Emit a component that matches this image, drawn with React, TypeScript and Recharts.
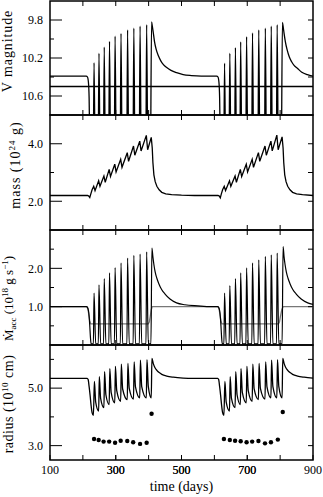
import type { ReactNode } from "react";
import { ComposedChart, Line, Scatter, XAxis, YAxis, ReferenceLine, ReferenceArea } from "recharts";

const FONT = "'Liberation Serif', 'DejaVu Serif', serif";
const WIDTH = 323;

const xTicks = [200, 300, 400, 500, 600, 700, 800];
const xLabels = [100, 300, 500, 700, 900];

// panel 1: V magnitude (time in days, mag)
const vMag = [
  [100, 10.39], [210, 10.39], [214, 10.4], [217, 10.46], [219, 10.62], [220.5, 11.0], [222, 11.5],
  [231, 11.5], [234, 10.25], [238, 11.5],
  [246, 11.5], [249, 10.15], [253, 11.5],
  [262, 11.5], [265, 10.085], [269, 11.5],
  [278, 11.5], [281, 10.025], [285, 11.5],
  [295, 11.5], [298, 9.97], [302, 11.5],
  [313, 11.5], [316, 9.94], [320, 11.5],
  [333, 11.5], [336, 9.905], [340, 11.5],
  [352, 11.5], [355, 9.885], [359, 11.5],
  [371, 11.5], [374, 9.865], [378, 11.5],
  [391, 11.5], [394, 9.85], [398, 11.5],
  [405, 11.5], [409, 9.82], [411, 9.86], [414, 9.93], [418, 10.03], [423, 10.11], [430, 10.18],
  [437, 10.23], [445, 10.27], [455, 10.3], [468, 10.33], [485, 10.355], [505, 10.375], [530, 10.385], [560, 10.39],
  [607, 10.39], [611, 10.4], [614, 10.46], [616, 10.62], [617.5, 11.0], [619, 11.5],
  [628, 11.5], [631, 10.255], [635, 11.5],
  [644, 11.5], [647, 10.15], [651, 11.5],
  [661, 11.5], [664, 10.09], [668, 11.5],
  [677, 11.5], [680, 10.03], [684, 11.5],
  [695, 11.5], [698, 9.975], [702, 11.5],
  [713, 11.5], [716, 9.935], [720, 11.5],
  [732, 11.5], [735, 9.905], [739, 11.5],
  [752, 11.5], [755, 9.885], [759, 11.5],
  [770, 11.5], [773, 9.865], [777, 11.5],
  [788, 11.5], [791, 9.85], [795, 11.5],
  [803, 11.5], [807, 9.825], [809, 9.865], [812, 9.94], [816, 10.03], [821, 10.11], [828, 10.19],
  [835, 10.24], [843, 10.28], [853, 10.31], [866, 10.35], [883, 10.375], [900, 10.39],
];
const vLevel = 10.5;

// panel 2: disc mass (10^24 g)
const mass = [
  [100, 2.2], [214, 2.2], [218, 2.18], [221, 2.13], [224, 2.25], [228, 2.4], [233, 2.52],
  [237, 2.37], [248, 2.71], [252, 2.52], [264, 2.88], [268, 2.66], [280, 3.11], [284, 2.86], [297, 3.29],
  [301, 3.02], [315, 3.46], [319, 3.18], [335, 3.69], [339, 3.39], [354, 3.92], [358, 3.6], [373, 4.09],
  [377, 3.75], [393, 4.29], [397, 3.79], [408, 4.22],
  [411, 3.85], [413, 3.35], [416, 2.92], [420, 2.68], [425, 2.52], [432, 2.4], [440, 2.31], [452, 2.26],
  [470, 2.23], [500, 2.21], [540, 2.2],
  [611, 2.2], [615, 2.18], [618, 2.12], [621, 2.25], [625, 2.4], [630, 2.52],
  [634, 2.37], [646, 2.71], [650, 2.52], [663, 2.88], [667, 2.66], [679, 3.11], [683, 2.86], [697, 3.29],
  [701, 3.02], [715, 3.46], [719, 3.18], [734, 3.69], [738, 3.39], [754, 3.92], [758, 3.6], [772, 4.09],
  [776, 3.75], [790, 4.3], [794, 3.79], [806, 4.24],
  [809, 3.85], [811, 3.35], [814, 2.92], [818, 2.68], [823, 2.52], [830, 2.4], [838, 2.31], [850, 2.26],
  [868, 2.23], [900, 2.2],
];

// panel 3: accretion rate and transfer rate (10^18 g/s)
const accretion = [
  [100, 1.0], [211, 1.0], [214, 0.98], [217, 0.9], [219, 0.75], [221, 0.5], [223, 0.2], [225, 0.03],
  [232, 0.03], [234, 1.355], [239, 0.03],
  [247, 0.03], [249, 1.57], [254, 0.03],
  [263, 0.03], [265, 1.73], [270, 0.03],
  [279, 0.03], [281, 1.88], [286, 0.03],
  [296, 0.03], [298, 2.02], [303, 0.03],
  [314, 0.03], [316, 2.14], [321, 0.03],
  [334, 0.03], [336, 2.27], [341, 0.03],
  [353, 0.03], [355, 2.34], [360, 0.03],
  [372, 0.03], [374, 2.37], [379, 0.03],
  [392, 0.03], [394, 2.43], [399, 0.03],
  [407, 0.03], [410, 2.53], [413, 2.3], [416, 2.1], [420, 1.9], [425, 1.74], [431, 1.6], [440, 1.44],
  [450, 1.33], [465, 1.2], [485, 1.1], [510, 1.05], [550, 1.02], [590, 1.0],
  [610, 1.0], [613, 0.98], [616, 0.9], [618, 0.75], [620, 0.5], [622, 0.2], [624, 0.03],
  [629, 0.03], [631, 1.355], [636, 0.03],
  [645, 0.03], [647, 1.55], [652, 0.03],
  [662, 0.03], [664, 1.73], [669, 0.03],
  [678, 0.03], [680, 1.88], [685, 0.03],
  [696, 0.03], [698, 2.01], [703, 0.03],
  [714, 0.03], [716, 2.14], [721, 0.03],
  [733, 0.03], [735, 2.22], [740, 0.03],
  [753, 0.03], [755, 2.31], [760, 0.03],
  [771, 0.03], [773, 2.35], [778, 0.03],
  [789, 0.03], [791, 2.4], [796, 0.03],
  [806, 0.03], [809, 2.57], [812, 2.3], [815, 2.1], [819, 1.9], [824, 1.74], [830, 1.6], [839, 1.44],
  [849, 1.33], [864, 1.2], [884, 1.1], [900, 1.06],
];
const transfer = [
  [100, 1.0], [212, 1.0], [215, 0.95], [218, 0.8], [221, 0.62], [224, 0.55], [399, 0.55], [402, 0.6],
  [405, 0.75], [408, 0.92], [411, 1.0],
  [611, 1.0], [614, 0.95], [617, 0.8], [620, 0.62], [623, 0.55], [795, 0.55], [798, 0.6],
  [801, 0.75], [805, 0.92], [809, 1.0], [900, 1.0],
];

// panel 4: outer radius (line) and inner radius at outbursts (dots), 10^10 cm
const radius = [
  [100, 5.34], [213, 5.34], [216, 5.3], [219, 5.05], [222, 4.75], [225, 4.4], [228, 4.15], [232, 4.05],
  [235, 5.23], [239, 4.51], [248, 4.2],
  [250, 5.4], [254, 4.64], [264, 4.32],
  [266, 5.57], [270, 4.77], [280, 4.43],
  [282, 5.68], [286, 4.85], [297, 4.49],
  [299, 5.76], [303, 4.91], [315, 4.54],
  [317, 5.83], [321, 4.97], [335, 4.6],
  [337, 5.86], [341, 4.99], [354, 4.62],
  [356, 5.91], [360, 5.04], [373, 4.66],
  [375, 5.97], [379, 5.05], [393, 4.66],
  [395, 5.99], [399, 5.06], [408, 4.66],
  [410, 6.03], [414, 5.86], [419, 5.72], [425, 5.62], [432, 5.54], [440, 5.48], [455, 5.42], [475, 5.38],
  [505, 5.35], [536, 5.34],
  [610, 5.34], [613, 5.3], [616, 5.05], [619, 4.75], [622, 4.4], [625, 4.15], [629, 4.05],
  [632, 5.23], [636, 4.51], [646, 4.2],
  [648, 5.4], [652, 4.64], [663, 4.32],
  [665, 5.57], [669, 4.77], [679, 4.43],
  [681, 5.68], [685, 4.85], [697, 4.49],
  [699, 5.76], [703, 4.91], [715, 4.54],
  [717, 5.83], [721, 4.97], [734, 4.6],
  [736, 5.86], [740, 4.99], [754, 4.62],
  [756, 5.91], [760, 5.04], [772, 4.66],
  [774, 5.97], [778, 5.05], [790, 4.66],
  [792, 5.99], [796, 5.06], [806, 4.66],
  [808, 6.03], [812, 5.86], [817, 5.72], [823, 5.62], [830, 5.54], [838, 5.48], [853, 5.42], [873, 5.38],
  [900, 5.35],
];
const innerRadius = [
  [234, 3.23], [248, 3.195], [263, 3.14], [280, 3.14], [298, 3.1], [315, 3.17], [335, 3.16], [353, 3.12],
  [374, 3.06], [394, 3.1], [409, 4.11],
  [629, 3.23], [647, 3.195], [663, 3.17], [680, 3.15], [698, 3.12], [715, 3.14], [734, 3.16], [754, 3.08],
  [772, 3.12], [793, 3.21], [808, 4.17],
];

const rows = (pts: number[][]) => pts.map(([t, v]) => ({ t, v }));

const tickStroke = { stroke: "#000", strokeWidth: 1 };

type TitleSpec = { x: number; dy: number; size: number; spacing: number; parts: ReactNode };

const axisTitle = (spec: TitleSpec) => (props: any) => {
  const vb = props?.viewBox ?? { x: 0, y: 0, width: 50, height: 115 };
  const cy = vb.y + vb.height / 2 + spec.dy;
  return (
    <text
      x={spec.x}
      y={cy}
      transform={`rotate(-90 ${spec.x} ${cy})`}
      textAnchor="middle"
      fontFamily={FONT}
      fontSize={spec.size}
      letterSpacing={spec.spacing}
      fill="#000"
    >
      {spec.parts}
    </text>
  );
};

const timeTitle = (props: any) => {
  const vb = props?.viewBox ?? { x: 50, y: 117, width: 263, height: 35 };
  return (
    <text x={vb.x + vb.width / 2} y={vb.y + 31} textAnchor="middle" fontFamily={FONT} fontSize={14} fill="#000">
      time (days)
    </text>
  );
};

// tick lines are drawn by the axis; these only add text (and the longer mark for labelled y ticks)
const noText = () => <g />;

const leftTick = (major: number[]) => (props: any) => {
  const { x, y, payload } = props;
  if (!major.includes(payload.value)) return <g />;
  return (
    <g>
      <line x1={x + 11} x2={x + 19} y1={y} y2={y} stroke="#000" strokeWidth={1} />
      <text x={x} y={y} dy="0.36em" textAnchor="end" fontFamily={FONT} fontSize={12} fill="#000">
        {payload.value.toFixed(1)}
      </text>
    </g>
  );
};

const timeTick = (props: any) => {
  const { x, y, payload } = props;
  if (!xLabels.includes(payload.value)) return <g />;
  return (
    <text x={x} y={y} dy="0.71em" textAnchor="middle" fontFamily={FONT} fontSize={12} fill="#000">
      {payload.value}
    </text>
  );
};

const dotShape = (p: any) => <circle cx={p.cx} cy={p.cy} r={2.2} fill="#000" />;

type PanelProps = {
  top: number;
  bottom: number;
  domain: [number, number];
  reversed?: boolean;
  major: number[];
  minor: number[];
  title: TitleSpec;
  showTime?: boolean;
  children: ReactNode;
};

function Panel({ top, bottom, domain, reversed, major, minor, title, showTime, children }: PanelProps) {
  const axisH = showTime ? 35 : 1;
  const marginB = showTime ? 2 : 1;
  const all = [...major, ...minor].sort((a, b) => a - b);
  return (
    <div style={{ position: "absolute", left: 0, top: top - 2 }}>
      <ComposedChart
        width={WIDTH}
        height={bottom - top + 2 + axisH + marginB}
        margin={{ top: 1, right: 0, bottom: marginB, left: 0 }}
      >
        <XAxis xAxisId="x" type="number" dataKey="t" domain={[100, 900]} allowDataOverflow interval={0}
          ticks={showTime ? [...xLabels, ...xTicks].sort((a, b) => a - b) : xTicks}
          orientation="bottom" height={axisH} tickSize={-5} tickMargin={10} axisLine={false} tickLine={tickStroke}
          tick={showTime ? timeTick : noText} label={showTime ? timeTitle : undefined} />
        <XAxis xAxisId="xt" type="number" dataKey="t" domain={[100, 900]} allowDataOverflow interval={0}
          ticks={xTicks} orientation="top" height={1} tickSize={-5} axisLine={false} tickLine={tickStroke}
          tick={noText} />
        <YAxis yAxisId="y" type="number" domain={domain} reversed={reversed} allowDataOverflow interval={0}
          ticks={all} width={50} tickSize={-4} tickMargin={11} axisLine={false} tickLine={tickStroke}
          tick={leftTick(major)} label={axisTitle(title)} />
        <YAxis yAxisId="yr" type="number" domain={domain} reversed={reversed} allowDataOverflow interval={0}
          ticks={all} orientation="right" width={10} tickSize={-5} axisLine={false} tickLine={tickStroke}
          tick={noText} />
        {children}
        <ReferenceArea xAxisId="x" yAxisId="y" x1={100} x2={900} y1={domain[0]} y2={domain[1]}
          fill="none" fillOpacity={0} stroke="#000" strokeWidth={1.5} ifOverflow="visible" />
      </ComposedChart>
    </div>
  );
}

export default function App() {
  return (
    <div
      style={{
        position: "absolute", left: 0, top: 0, width: WIDTH, height: 497,
        background: "#fff", overflow: "hidden", fontFamily: FONT,
      }}
    >
      <Panel
        top={1}
        bottom={115}
        domain={[9.6, 10.8]}
        reversed
        major={[9.8, 10.2, 10.6]}
        minor={[10.0, 10.4]}
        title={{ x: 12, dy: -7, size: 14, spacing: 0.9, parts: "V magnitude" }}
      >
        <ReferenceLine xAxisId="x" yAxisId="y" y={vLevel} stroke="#000" strokeWidth={1.3} />
        <Line xAxisId="x" yAxisId="y" data={rows(vMag)} dataKey="v" type="monotone" stroke="#000"
          strokeWidth={1.3} dot={false} isAnimationActive={false} />
      </Panel>
      <Panel
        top={115}
        bottom={230}
        domain={[1, 5]}
        major={[2, 4]}
        minor={[3]}
        title={{
          x: 19.5, dy: -7.5, size: 14, spacing: 1,
          parts: (<>mass (10<tspan dy={-5} fontSize={9}>24</tspan><tspan dy={5}> g)</tspan></>),
        }}
      >
        <Line xAxisId="x" yAxisId="y" data={rows(mass)} dataKey="v" type="linear" stroke="#000"
          strokeWidth={1.3} dot={false} isAnimationActive={false} />
      </Panel>
      <Panel
        top={230}
        bottom={345}
        domain={[0, 3]}
        major={[1, 2]}
        minor={[0.5, 1.5, 2.5]}
        title={{
          x: 13, dy: 11, size: 13, spacing: 0,
          parts: (
            <>
              Ṁ<tspan dy={3} fontSize={9}>acc</tspan>
              <tspan dy={-3}> (10</tspan>
              <tspan dy={-5} fontSize={9}>18</tspan>
              <tspan dy={5}> g s</tspan>
              <tspan dy={-5} fontSize={9}>−1</tspan>
              <tspan dy={5}>)</tspan>
            </>
          ),
        }}
      >
        <Line xAxisId="x" yAxisId="y" data={rows(transfer)} dataKey="v" type="linear" stroke="#777"
          strokeWidth={1.3} dot={false} isAnimationActive={false} />
        <Line xAxisId="x" yAxisId="y" data={rows(accretion)} dataKey="v" type="monotone" stroke="#000"
          strokeWidth={1.2} dot={false} isAnimationActive={false} />
      </Panel>
      <Panel
        top={345}
        bottom={460}
        domain={[2.5, 6.5]}
        major={[3, 5]}
        minor={[4, 6]}
        showTime
        title={{
          x: 12.5, dy: 1.5, size: 14, spacing: 0.5,
          parts: (<>radius (10<tspan dy={-5} fontSize={9}>10</tspan><tspan dy={5}> cm)</tspan></>),
        }}
      >
        <Line xAxisId="x" yAxisId="y" data={rows(radius)} dataKey="v" type="monotone" stroke="#000"
          strokeWidth={1.3} dot={false} isAnimationActive={false} />
        <Scatter xAxisId="x" yAxisId="y" data={rows(innerRadius)} dataKey="v" shape={dotShape}
          isAnimationActive={false} />
      </Panel>
    </div>
  );
}
